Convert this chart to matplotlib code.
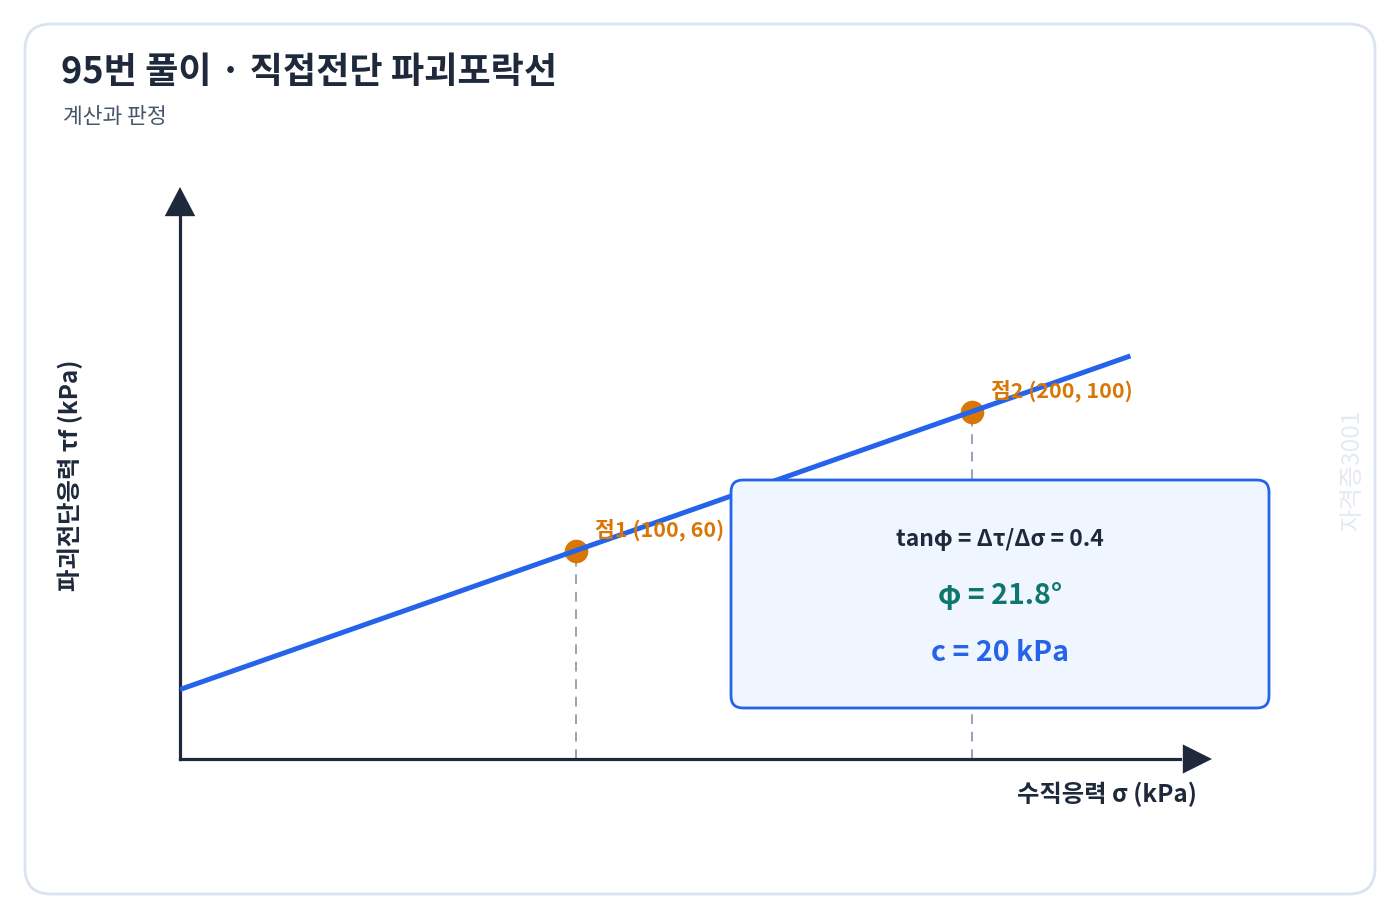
import matplotlib
matplotlib.use("Agg")
import matplotlib.pyplot as plt
from matplotlib.patches import FancyBboxPatch

plt.rcParams['font.family'] = ['Noto Sans CJK KR', 'DejaVu Sans']

# ---- data ----
title = "95번 풀이 · 직접전단 파괴포락선"
subtitle = "계산과 판정"
x_label = "수직응력 σ (kPa)"
y_label = "파괴전단응력 τf (kPa)"
point_sigma = [100, 200]
point_tau = [60, 100]
point_labels = ["점1 (100, 60)", "점2 (200, 100)"]
cohesion = 20
slope = 0.4
line_sigma = [0, 240]
box_lines = ["tanφ = Δτ/Δσ = 0.4", "φ = 21.8°", "c = 20 kPa"]
watermark = "자격증3001"

W, H = 1400, 920
fig = plt.figure(figsize=(W / 100, H / 100), dpi=100)
fig.patch.set_facecolor("white")

# background/card axes in pixel coords
bg = fig.add_axes([0, 0, 1, 1], zorder=0)
bg.set_xlim(0, W); bg.set_ylim(H, 0); bg.axis("off")
card = FancyBboxPatch((25, 25), 1350, 870, boxstyle="round,pad=0,rounding_size=26",
                      facecolor="white", edgecolor="#dbe3ee", linewidth=2)
bg.add_patch(card)
bg.text(61, 72, title, fontsize=26, fontweight="bold", color="#1e293b", va="center", ha="left")
bg.text(63, 117, subtitle, fontsize=15.5, color="#475569", va="center", ha="left")
bg.text(1352, 470, watermark, fontsize=17.5, color="#e5eaf1", rotation=90, va="center", ha="center")

# data axes: origin at pixel (180, 760)
px_per_x = 3.96
px_per_y = 3.475
left, right, bottom, top = 180, 1220, 760, 180
ax = fig.add_axes([left / W, (H - bottom) / H, (right - left) / W, (bottom - top) / H], zorder=1)
ax.set_xlim(0, (right - left) / px_per_x)
ax.set_ylim(0, (bottom - top) / px_per_y)
ax.axis("off")
ax.patch.set_alpha(0)

axis_color = "#1e293b"
# dashed verticals
for s, t in zip(point_sigma, point_tau):
    ax.plot([s, s], [0, t], color="#94a3b8", lw=1.4, ls=(0, (5, 4)), zorder=1, clip_on=False)

# axes with arrows
xmax_arrow = (1212 - left) / px_per_x
ymax_arrow = (760 - 188) / px_per_y
ax.plot([0, xmax_arrow - 8], [0, 0], color=axis_color, lw=2.3, solid_capstyle="projecting",
        zorder=2, clip_on=False)
ax.plot([0, 0], [0, ymax_arrow - 8], color=axis_color, lw=2.3, solid_capstyle="projecting",
        zorder=2, clip_on=False)
ax.annotate("", xy=(xmax_arrow, 0), xytext=(xmax_arrow - 7.6, 0),
            arrowprops=dict(arrowstyle="-|>,head_length=2.1,head_width=1.05", color=axis_color, lw=0,
                            shrinkA=0, shrinkB=0), zorder=3, annotation_clip=False)
ax.annotate("", xy=(0, ymax_arrow), xytext=(0, ymax_arrow - 8.6),
            arrowprops=dict(arrowstyle="-|>,head_length=2.1,head_width=1.1", color=axis_color, lw=0,
                            shrinkA=0, shrinkB=0), zorder=3, annotation_clip=False)

# envelope line
line_tau = [cohesion + slope * s for s in line_sigma]
ax.plot(line_sigma, line_tau, color="#2563eb", lw=3.6, solid_capstyle="butt", zorder=4)

# points
ax.plot(point_sigma, point_tau, "o", color="#d97706", markersize=17, markeredgewidth=0, zorder=3)
for s, t, lab in zip(point_sigma, point_tau, point_labels):
    ax.annotate(lab, xy=(s, t), xytext=(19, 21), textcoords="offset pixels",
                fontsize=15.5, fontweight="bold", color="#d97706", ha="left", va="center", zorder=5)

# axis labels
bg.text(1107, 794, x_label, fontsize=17.5, fontweight="bold", color=axis_color, ha="center", va="center")
bg.text(70, 475, y_label, fontsize=17.5, fontweight="bold", color=axis_color, ha="center", va="center",
        rotation=90)

# info box overlay
ov = fig.add_axes([0, 0, 1, 1], zorder=2)
ov.set_xlim(0, W); ov.set_ylim(H, 0); ov.axis("off"); ov.patch.set_alpha(0)
box = FancyBboxPatch((731, 481), 538, 228, boxstyle="round,pad=0,rounding_size=12",
                     facecolor="#eff6ff", edgecolor="#2563eb", linewidth=2)
ov.add_patch(box)
ov.text(1000, 540, box_lines[0], fontsize=16.5, fontweight="bold", color="#1e293b", ha="center", va="center")
ov.text(1000, 596, box_lines[1], fontsize=20.5, fontweight="bold", color="#0f766e", ha="center", va="center")
ov.text(1000, 653, box_lines[2], fontsize=20.5, fontweight="bold", color="#2563eb", ha="center", va="center")

fig.savefig("out.png", dpi=100, facecolor="white")
